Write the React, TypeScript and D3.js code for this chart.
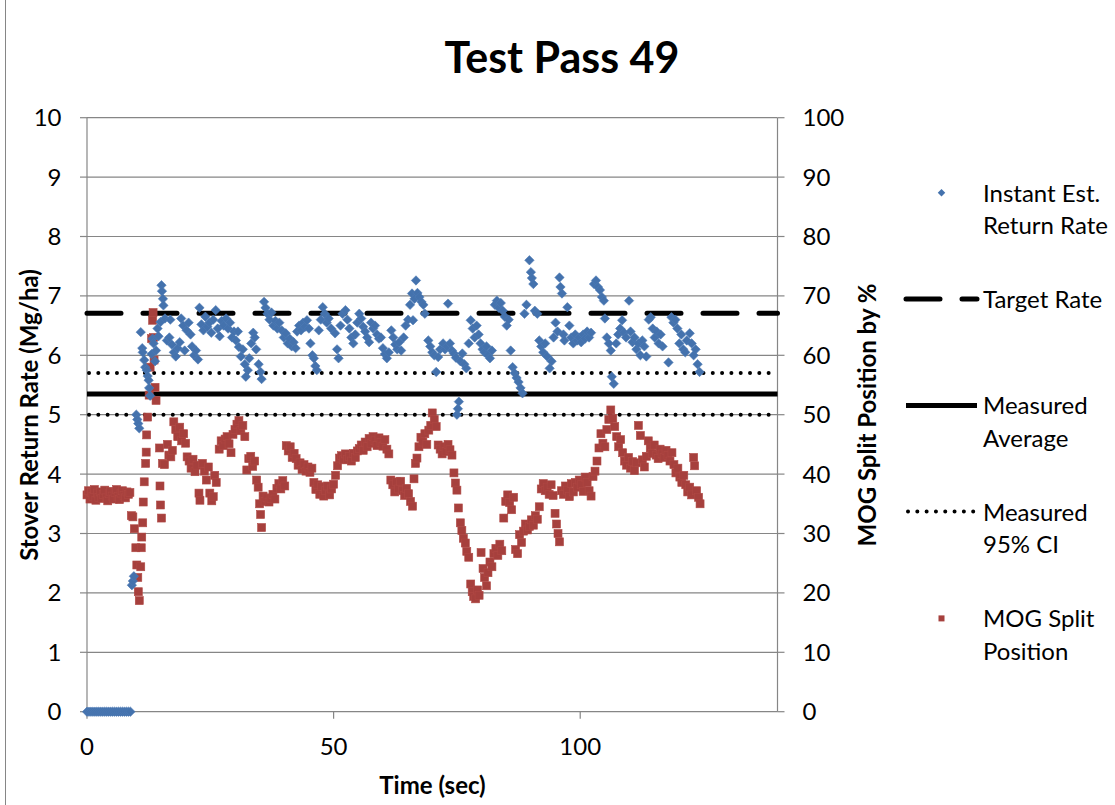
import React from "react";
import * as d3 from "d3";

const W = 1115;
const H = 805;

const chartTitle = "Test Pass 49";
const xTitle = "Time (sec)";
const leftTitle = "Stover Return Rate (Mg/ha)";
const rightTitle = "MOG Split Position by %";

const xTicks = [0, 50, 100];
const leftTicks = [0, 1, 2, 3, 4, 5, 6, 7, 8, 9, 10];
const rightTicks = [0, 10, 20, 30, 40, 50, 60, 70, 80, 90, 100];

const targetRate = 6.71;
const measuredAverage = 5.35;
const ci95 = [5.0, 5.7];

// [time (s), stover return rate (Mg/ha)]
const returnRate: [number, number][] = [
  [0, 0], [0.4, 0], [0.8, 0], [1.2, 0], [1.6, 0], [2, 0], [2.4, 0], [2.8, 0], [3.2, 0], [3.6, 0], [4, 0], [4.4, 0],
  [4.8, 0], [5.2, 0], [5.6, 0], [6, 0], [6.4, 0], [6.8, 0], [7.2, 0], [7.6, 0], [8, 0], [8.4, 0], [8.8, 0],
  [9.1, 2.13], [9.3, 2.2], [9.5, 2.28],
  [10.0, 5.0], [10.2, 4.92], [10.4, 4.85], [10.6, 4.77],
  [10.9, 6.39], [11.2, 6.12], [11.3, 6.05], [11.6, 5.92], [11.8, 5.8], [12.1, 5.75], [12.3, 5.65], [12.5, 5.58],
  [12.6, 5.45], [12.8, 5.32], [13.1, 6.02], [13.3, 6.28], [13.5, 6.2], [13.8, 5.9], [14.0, 6.08], [14.3, 6.45],
  [14.5, 6.32], [14.9, 6.56], [15.1, 7.18], [15.2, 7.08], [15.4, 6.95], [15.5, 6.84], [15.8, 6.62], [16.2, 6.25],
  [16.7, 6.3], [16.9, 6.6], [17.2, 6.18], [17.6, 6.05], [18.0, 5.98], [18.4, 6.12], [18.8, 6.22], [19.1, 6.62],
  [19.5, 6.5], [19.8, 6.08], [20.2, 6.42], [20.6, 6.55], [21.0, 6.35], [21.3, 6.15], [21.7, 6.0], [22.1, 6.08],
  [22.5, 5.93], [22.8, 6.8], [23.2, 6.52], [23.6, 6.42], [24.0, 6.65], [24.4, 6.48], [24.8, 6.55], [25.2, 6.38],
  [25.6, 6.6], [26.1, 6.76], [26.5, 6.45], [26.9, 6.32], [27.3, 6.58], [27.7, 6.5], [28.2, 6.62], [28.6, 6.45],
  [29.0, 6.55], [29.4, 6.3], [29.8, 6.4], [30.2, 6.25], [30.6, 6.4], [30.8, 6.14], [31.2, 5.98], [31.6, 6.1],
  [32.0, 5.85], [32.2, 5.64], [32.6, 5.75], [32.9, 5.95], [33.3, 6.2], [33.7, 6.38], [34.0, 6.3], [34.3, 6.1],
  [34.8, 5.85], [35.2, 5.72], [35.4, 5.6], [35.9, 6.9], [36.2, 6.8], [36.6, 6.7], [37.0, 6.6], [37.4, 6.72],
  [37.8, 6.5], [38.2, 6.58], [38.6, 6.45], [39.0, 6.55], [39.5, 6.42], [39.9, 6.3], [40.3, 6.37], [40.7, 6.2],
  [41.1, 6.28], [41.5, 6.15], [41.9, 6.22], [42.3, 6.12], [42.6, 6.4], [43.0, 6.5], [43.4, 6.42], [43.8, 6.55],
  [44.2, 6.48], [44.6, 6.59], [45.0, 6.45], [45.3, 6.2], [45.7, 6.0], [46.0, 5.95], [46.3, 5.82], [46.6, 5.75],
  [47.0, 6.42], [47.4, 6.6], [47.8, 6.81], [48.2, 6.7], [48.6, 6.55], [49.0, 6.62], [49.5, 6.45], [50.3, 6.37],
  [50.7, 6.1], [51.0, 5.95], [51.4, 6.5], [51.8, 6.7], [52.4, 6.76], [52.8, 6.6], [53.2, 6.45], [53.6, 6.3],
  [54.0, 6.2], [54.4, 6.35], [54.8, 6.55], [55.2, 6.7], [55.6, 6.62], [56.0, 6.48], [56.4, 6.4], [56.8, 6.3],
  [57.2, 6.22], [57.6, 6.55], [58.0, 6.45], [58.4, 6.5], [58.8, 6.35], [59.2, 6.28], [59.6, 6.3], [60.0, 6.12],
  [60.4, 6.02], [60.8, 5.95], [61.2, 6.05], [61.7, 6.42], [62.1, 6.3], [62.5, 6.18], [62.9, 6.1], [63.3, 6.22],
  [63.7, 6.08], [64.2, 6.3], [64.6, 6.5], [65.1, 6.6], [65.5, 6.85], [65.9, 7.04], [66.1, 6.59], [66.4, 6.95],
  [66.7, 7.26], [67.0, 7.05], [67.4, 6.98], [67.8, 6.9], [68.2, 6.85], [68.5, 6.7], [69.2, 6.25], [69.6, 6.15],
  [70.0, 6.05], [70.4, 6.0], [70.8, 5.72], [71.2, 5.97], [71.6, 6.1], [72.2, 6.2], [72.6, 6.1], [73.0, 6.15],
  [73.2, 6.87], [73.6, 6.2], [74.0, 6.08], [74.4, 6.03], [74.8, 5.96], [75.0, 5.0], [75.2, 5.1], [75.4, 5.22],
  [75.7, 5.9], [76.1, 6.03], [76.5, 5.85], [76.9, 5.78], [77.4, 6.2], [77.8, 6.59], [78.2, 6.45], [78.6, 6.3],
  [79.0, 6.5], [79.4, 6.35], [79.8, 6.2], [80.2, 6.1], [80.6, 6.05], [81.0, 6.15], [81.3, 6.0], [81.7, 5.95],
  [82.1, 6.08], [82.7, 6.85], [83.1, 6.92], [83.5, 6.8], [83.9, 6.88], [84.3, 6.75], [84.7, 6.65], [85.1, 6.5],
  [85.5, 6.6], [85.9, 6.08], [86.3, 5.8], [86.7, 5.7], [87.1, 5.62], [87.5, 5.55], [87.9, 5.45], [88.3, 5.36],
  [88.7, 6.7], [89.1, 6.85], [89.7, 7.6], [90.0, 7.4], [90.2, 7.3], [90.5, 7.2], [90.8, 6.75], [91.3, 6.7],
  [91.7, 6.25], [92.1, 6.15], [92.5, 6.05], [92.9, 6.2], [93.3, 5.98], [93.8, 5.78], [94.2, 5.9], [94.6, 6.3],
  [95.0, 6.55], [95.4, 6.4], [95.8, 7.31], [96.0, 7.15], [96.3, 7.04], [96.6, 6.35], [96.8, 6.25], [97.4, 6.81],
  [97.8, 6.5], [98.2, 6.3], [98.6, 6.2], [99.0, 6.35], [99.4, 6.25], [99.8, 6.3], [100.2, 6.22], [100.6, 6.35],
  [101.0, 6.28], [101.4, 6.4], [101.8, 6.3], [102.2, 6.38], [102.8, 7.2], [103.2, 7.26], [103.6, 7.15], [104.0, 7.1],
  [104.4, 6.98], [104.8, 6.92], [105.0, 6.62], [105.4, 6.3], [105.8, 6.2], [106.2, 6.08], [106.4, 5.64], [106.8, 5.52],
  [107.3, 6.2], [107.7, 6.35], [108.1, 6.45], [108.5, 6.59], [108.9, 6.38], [109.3, 6.3], [109.9, 6.92], [110.2, 6.4],
  [110.6, 6.22], [111.0, 6.3], [111.4, 6.1], [111.8, 6.2], [112.2, 6.0], [112.6, 6.25], [113.0, 6.15], [113.4, 5.98],
  [113.9, 6.6], [114.3, 6.64], [114.7, 6.45], [115.1, 6.3], [115.5, 6.4], [115.9, 6.2], [116.3, 6.35], [116.7, 6.15],
  [117.9, 5.88], [118.5, 6.64], [118.9, 6.55], [119.3, 6.6], [119.7, 6.45], [120.1, 6.2], [120.5, 6.35], [120.9, 6.1],
  [121.3, 6.05], [121.6, 6.25], [122.2, 6.37], [122.6, 6.2], [123.0, 6.0], [123.4, 6.1], [123.8, 5.85], [124.2, 5.72],
];

// [time (s), MOG split position (%)]
const splitPosition: [number, number][] = [
  [0, 36.5], [0.3, 37.2], [0.6, 35.8], [0.9, 36.9], [1.2, 36.2], [1.5, 37.4], [1.8, 35.6], [2.1, 36.8], [2.4, 36.1],
  [2.7, 37.0], [3.0, 35.9], [3.3, 36.6], [3.6, 37.3], [3.9, 36.0], [4.2, 35.5], [4.5, 36.7], [4.8, 37.1], [5.1, 36.3],
  [5.4, 35.8], [5.7, 36.9], [6.0, 37.4], [6.3, 36.2], [6.6, 35.7], [6.9, 36.8], [7.2, 37.2], [7.5, 36.4], [7.8, 36.0],
  [8.1, 37.0], [8.4, 36.6], [8.7, 36.9],
  [9.0, 33.0], [9.3, 32.8], [9.6, 30.8], [9.9, 27.6], [10.1, 24.7], [10.3, 22.6], [10.4, 20.2], [10.6, 18.7],
  [10.9, 24.4], [11.0, 27.6], [11.1, 29.4], [11.3, 31.8], [11.4, 35.3], [11.6, 38.7], [11.9, 41.8], [12.0, 43.7],
  [12.1, 46.6], [12.3, 49.6], [12.6, 53.3], [12.8, 58.0], [13.1, 62.8], [13.3, 65.9], [13.4, 67.2], [13.5, 63.0],
  [13.6, 59.2], [13.8, 54.6], [14.0, 52.4], [14.7, 44.4], [14.8, 38.0], [14.9, 34.8], [15.1, 32.6], [15.3, 41.8],
  [15.7, 41.6], [16.3, 45.0], [16.6, 43.2], [17.0, 42.9], [17.3, 44.0], [17.6, 48.8], [18.0, 47.5], [18.4, 46.3],
  [18.8, 47.9], [19.2, 45.6], [19.6, 46.8], [20.0, 45.2], [20.3, 42.9], [20.7, 42.2], [21.1, 41.0], [21.5, 42.5],
  [21.9, 40.4], [22.3, 41.5], [22.7, 36.8], [22.9, 35.6], [23.4, 41.8], [23.8, 40.5], [24.2, 39.0], [24.6, 41.2],
  [24.9, 36.8], [25.3, 35.5], [25.6, 36.2], [25.9, 39.8], [26.2, 38.6], [26.8, 44.2], [27.2, 45.6], [27.6, 44.8],
  [28.0, 45.9], [28.4, 46.3], [28.8, 45.1], [29.2, 43.6], [29.6, 46.7], [30.0, 47.5], [30.4, 48.4], [30.8, 49.0],
  [31.2, 47.3], [31.6, 48.2], [32.0, 46.3], [32.4, 40.7], [32.8, 42.6], [33.2, 43.0], [33.6, 41.3], [34.0, 42.2],
  [34.4, 39.0], [34.7, 37.8], [35.0, 35.0], [35.2, 33.2], [35.4, 31.0], [35.7, 36.3], [36.1, 35.4], [36.5, 36.0],
  [36.9, 35.3], [37.3, 35.9], [37.7, 36.6], [38.1, 35.8], [38.5, 37.6], [38.9, 38.4], [39.3, 37.5], [39.7, 38.9],
  [40.1, 38.0], [40.4, 44.8], [40.8, 43.9], [41.2, 44.6], [41.6, 42.8], [42.0, 43.5], [42.4, 42.6], [42.8, 41.5],
  [43.2, 41.9], [43.6, 40.8], [44.0, 41.6], [44.4, 40.5], [44.8, 41.2], [45.2, 40.3], [45.6, 41.0], [46.0, 38.6],
  [46.4, 37.4], [46.8, 38.2], [47.2, 36.6], [47.6, 37.9], [48.0, 36.3], [48.4, 37.2], [48.8, 38.0], [49.2, 36.5],
  [49.6, 37.5], [50.0, 38.3], [50.4, 39.8], [50.8, 41.4], [51.2, 42.7], [51.6, 43.1], [52.0, 42.4], [52.4, 43.4],
  [52.8, 42.5], [53.2, 43.0], [53.6, 42.2], [54.0, 43.5], [54.4, 42.8], [54.8, 43.9], [55.2, 44.3], [55.6, 44.9],
  [56.0, 44.0], [56.4, 45.4], [56.8, 44.6], [57.2, 46.0], [57.6, 45.2], [58.0, 46.3], [58.4, 45.6], [58.8, 44.8],
  [59.2, 46.1], [59.6, 45.3], [60.0, 44.7], [60.4, 45.8], [60.8, 44.2], [61.2, 43.4], [61.6, 39.0], [62.0, 38.2],
  [62.4, 37.0], [62.8, 38.7], [63.2, 37.5], [63.6, 38.8], [64.0, 37.2], [64.4, 36.4], [64.8, 37.6], [65.2, 36.7],
  [65.6, 35.4], [66.0, 34.6], [66.3, 39.2], [66.6, 41.8], [66.9, 42.7], [67.3, 44.6], [67.7, 46.2], [68.1, 45.4],
  [68.5, 46.8], [68.9, 45.0], [69.3, 47.4], [69.7, 48.2], [70.0, 50.3], [70.4, 49.2], [70.8, 48.0], [71.2, 44.9],
  [71.6, 44.2], [72.0, 43.4], [72.4, 44.6], [72.8, 43.8], [73.2, 45.0], [73.6, 44.1], [74.0, 43.2], [74.4, 40.2],
  [74.7, 38.5], [75.0, 37.3], [75.3, 34.3], [75.7, 31.8], [76.0, 30.5], [76.3, 29.2], [76.7, 28.4], [77.0, 27.0],
  [77.4, 26.0], [77.8, 21.5], [78.1, 20.2], [78.4, 19.4], [78.8, 19.0], [79.2, 20.5], [79.5, 19.6], [79.9, 26.8],
  [80.3, 24.1], [80.6, 22.6], [81.0, 21.2], [81.3, 23.4], [81.7, 25.2], [82.1, 24.4], [82.5, 26.6], [82.9, 27.5],
  [83.3, 26.3], [83.7, 28.2], [84.1, 27.1], [84.5, 32.6], [84.9, 35.4], [85.3, 36.5], [85.7, 35.2], [86.1, 34.0],
  [86.5, 36.1], [86.9, 27.3], [87.3, 26.6], [87.7, 29.8], [88.1, 28.5], [88.5, 30.4], [88.9, 31.6], [89.3, 30.6],
  [89.7, 31.2], [90.1, 32.3], [90.5, 31.4], [90.9, 33.0], [91.3, 32.4], [91.7, 34.5], [92.1, 37.5], [92.5, 38.4],
  [92.9, 37.2], [93.3, 37.8], [93.7, 36.6], [94.1, 38.2], [94.5, 36.4], [94.9, 33.4], [95.2, 31.6], [95.5, 30.0],
  [95.8, 28.6], [96.2, 37.2], [96.6, 36.6], [97.0, 38.0], [97.4, 37.3], [97.8, 36.2], [98.2, 38.4], [98.6, 37.0],
  [99.0, 38.6], [99.4, 37.8], [99.8, 39.0], [100.2, 38.2], [100.6, 37.1], [101.0, 39.5], [101.4, 38.6], [101.8, 37.2],
  [102.2, 36.3], [102.6, 39.6], [103.0, 40.5], [103.4, 42.2], [103.8, 44.4], [104.2, 46.8], [104.6, 45.2], [105.0, 44.6],
  [105.4, 47.5], [105.8, 49.2], [106.2, 50.8], [106.6, 49.4], [107.0, 48.0], [107.4, 46.3], [107.8, 44.6], [108.2, 45.8],
  [108.6, 43.6], [109.0, 42.2], [109.4, 41.5], [109.8, 42.8], [110.2, 41.0], [110.6, 42.1], [111.0, 40.6], [111.4, 41.9],
  [111.8, 48.2], [112.2, 46.5], [112.6, 42.4], [113.0, 41.2], [113.4, 43.0], [113.8, 45.6], [114.2, 44.4], [114.6, 43.5],
  [115.0, 44.9], [115.4, 43.2], [115.8, 42.6], [116.2, 44.2], [116.6, 43.4], [117.0, 42.8], [117.4, 44.0], [117.8, 43.1],
  [118.2, 42.2], [118.6, 43.6], [119.0, 41.6], [119.4, 40.2], [119.8, 41.0], [120.2, 39.5], [120.6, 38.6], [121.0, 39.8],
  [121.4, 38.2], [121.8, 37.0], [122.2, 37.8], [122.6, 36.5], [123.0, 42.8], [123.2, 41.4], [123.6, 37.2], [124.0, 36.1],
  [124.3, 35.0],
];

const BLUE = "#4472AD";
const RED = "#A6403D";
const GRID = "#868686";
const FONT = "Lato, 'Open Sans', sans-serif";

const diamondPath = "M0,-4.7L4.7,0L0,4.7L-4.7,0Z";
const SQ = 8;

export default function App() {
  const x = d3.scaleLinear().domain([0, 140]).range([87, 777.5]);
  const yL = d3.scaleLinear().domain([0, 10]).range([711.7, 117.7]);
  const yR = d3.scaleLinear().domain([0, 100]).range([711.7, 117.7]);
  const [x0, x1] = x.range();
  const legX0 = 906;
  const legX1 = 977;
  const legText = 983;
  const fs = 24;

  return (
    <svg
      width={W}
      height={H}
      viewBox={`0 0 ${W} ${H}`}
      style={{ position: "absolute", left: 0, top: 0, background: "#fff" }}
      fontFamily={FONT}
    >
      <rect x={0} y={0} width={W} height={H} fill="#fff" />
      {/* chart frame */}
      <line x1={5.5} y1={0} x2={5.5} y2={H} stroke={GRID} strokeWidth={1} />

      {/* gridlines */}
      {leftTicks.map((t) => (
        <line key={"g" + t} x1={x0} x2={x1} y1={yL(t)} y2={yL(t)} stroke={GRID} strokeWidth={1.2} />
      ))}
      {/* axes */}
      <line x1={x0} x2={x0} y1={yL(0)} y2={yL(10)} stroke={GRID} strokeWidth={1.2} />
      <line x1={x1} x2={x1} y1={yL(0)} y2={yL(10)} stroke={GRID} strokeWidth={1.2} />
      {leftTicks.map((t) => (
        <line key={"lt" + t} x1={x0 - 7} x2={x0} y1={yL(t)} y2={yL(t)} stroke={GRID} strokeWidth={1.2} />
      ))}
      {rightTicks.map((t) => (
        <line key={"rt" + t} x1={x1} x2={x1 + 7} y1={yR(t)} y2={yR(t)} stroke={GRID} strokeWidth={1.2} />
      ))}
      {xTicks.map((t) => (
        <line key={"xt" + t} x1={x(t)} x2={x(t)} y1={yL(0)} y2={yL(0) + 7} stroke={GRID} strokeWidth={1.2} />
      ))}

      {/* reference lines */}
      <line x1={x0} x2={x1} y1={yL(targetRate)} y2={yL(targetRate)} stroke="#000" strokeWidth={5} strokeDasharray="34 22" strokeLinecap="round" />
      <line x1={x0} x2={x1} y1={yL(measuredAverage)} y2={yL(measuredAverage)} stroke="#000" strokeWidth={5} />
      {ci95.map((v) => (
        <line key={"ci" + v} x1={x0 + 2} x2={x1} y1={yL(v)} y2={yL(v)} stroke="#000" strokeWidth={4} strokeDasharray="0.01 9.3" strokeLinecap="round" />
      ))}

      {/* series */}
      {splitPosition.map(([t, v], i) => (
        <rect key={"r" + i} x={x(t) - SQ / 2} y={yR(v) - SQ / 2} width={SQ} height={SQ} fill={RED} stroke="#B04844" strokeWidth={0.6} />
      ))}
      {returnRate.map(([t, v], i) => (
        <path key={"b" + i} d={diamondPath} transform={`translate(${x(t)},${yL(v)})`} fill={BLUE} stroke="#4E7BB6" strokeWidth={0.6} />
      ))}

      {/* tick labels */}
      {leftTicks.map((t) => (
        <text key={"ll" + t} x={61.5} y={yL(t) + 8.5} textAnchor="end" fontSize={fs}>
          {t}
        </text>
      ))}
      {rightTicks.map((t) => (
        <text key={"rl" + t} x={802.5} y={yR(t) + 8.5} textAnchor="start" fontSize={fs}>
          {t}
        </text>
      ))}
      {xTicks.map((t) => (
        <text key={"xl" + t} x={x(t)} y={755} textAnchor="middle" fontSize={fs}>
          {t}
        </text>
      ))}

      {/* titles */}
      <text x={562} y={73} textAnchor="middle" fontSize={43} fontWeight="bold">
        {chartTitle}
      </text>
      <text x={432.5} y={794} textAnchor="middle" fontSize={24} fontWeight="bold">
        {xTitle}
      </text>
      <text transform="translate(38,415) rotate(-90)" textAnchor="middle" fontSize={24} fontWeight="bold">
        {leftTitle}
      </text>
      <text transform="translate(876,415) rotate(-90)" textAnchor="middle" fontSize={24} fontWeight="bold">
        {rightTitle}
      </text>

      {/* legend */}
      <path d={diamondPath} transform="translate(941.5,192.8) scale(0.8)" fill={BLUE} />
      <text x={legText} y={201.5} fontSize={fs}>Instant Est.</text>
      <text x={legText} y={234} fontSize={fs}>Return Rate</text>

      <line x1={legX0} x2={legX1} y1={299} y2={299} stroke="#000" strokeWidth={5} strokeDasharray="34 22" strokeLinecap="round" />
      <text x={legText} y={307.5} fontSize={fs}>Target Rate</text>

      <line x1={legX0} x2={legX1} y1={405.6} y2={405.6} stroke="#000" strokeWidth={5} />
      <text x={legText} y={414} fontSize={fs}>Measured</text>
      <text x={legText} y={447} fontSize={fs}>Average</text>

      <line x1={legX0 + 2} x2={legX1} y1={511.4} y2={511.4} stroke="#000" strokeWidth={4} strokeDasharray="0.01 9.3" strokeLinecap="round" />
      <text x={legText} y={520.5} fontSize={fs}>Measured</text>
      <text x={legText} y={552.5} fontSize={fs}>95% CI</text>

      <rect x={941.5 - 3} y={618.4 - 3} width={6} height={6} fill={RED} />
      <text x={legText} y={627} fontSize={fs}>MOG Split</text>
      <text x={legText} y={660} fontSize={fs}>Position</text>
    </svg>
  );
}
